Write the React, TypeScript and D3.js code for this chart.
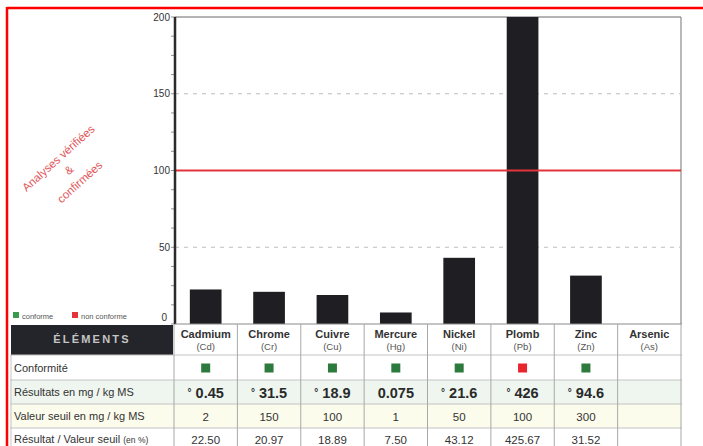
import React from "react";
import * as d3 from "d3";

// Analysed elements and their laboratory values
const elements = ["Cadmium", "Chrome", "Cuivre", "Mercure", "Nickel", "Plomb", "Zinc", "Arsenic"];
const symbols = ["Cd", "Cr", "Cu", "Hg", "Ni", "Pb", "Zn", "As"];
const results: (string | null)[] = ["0.45", "31.5", "18.9", "0.075", "21.6", "426", "94.6", null];
const verified = [true, true, true, false, true, true, true, false];
const thresholds: (string | null)[] = ["2", "150", "100", "1", "50", "100", "300", null];
const ratios: (number | null)[] = [22.5, 20.97, 18.89, 7.5, 43.12, 425.67, 31.52, null];
const yTicks = [0, 50, 100, 150, 200];
const limit = 100;

const W = 703;
const H = 446;
const plotLeft = 175;
const plotRight = 681;
const plotTop = 17;
const plotBottom = 324;
const tableLeft = 10;
const rowEdges = [324, 355, 380, 404, 428, 452];

const font = "'Liberation Sans', Arial, sans-serif";

export default function App() {
  const y = d3.scaleLinear().domain([0, 200]).range([plotBottom, plotTop]);
  const xBar = d3.scaleBand<string>().domain(elements).range([plotLeft - 1, plotRight]).paddingInner(0.5).paddingOuter(0.25);
  const xCol = d3.scaleBand<string>().domain(elements).range([plotLeft - 1, plotRight]).padding(0);
  const minorTicks = d3.range(0, 200.01, 12.5);
  const gridTicks = yTicks.filter((t) => t !== 0 && t !== 200 && t !== limit);

  const colCenter = (e: string) => (xCol(e) as number) + xCol.bandwidth() / 2;

  return (
    <div style={{ position: "absolute", left: 0, top: 0 }}>
      <svg width={W} height={H} style={{ display: "block", fontFamily: font }}>
        <rect x={0} y={0} width={W} height={H} fill="#fff" />

        {/* Frame of the plot area */}
        <line x1={plotLeft} x2={plotRight} y1={plotTop} y2={plotTop} stroke="#6a6a6a" strokeWidth={1.2} />
        <line x1={plotRight} x2={plotRight} y1={plotTop} y2={plotBottom} stroke="#8a8a8a" strokeWidth={1.2} />

        {/* Dashed gridlines */}
        {gridTicks.map((t) => (
          <line key={t} x1={plotLeft} x2={plotRight} y1={y(t)} y2={y(t)} stroke="#bdbdbd" strokeDasharray="4,5" strokeWidth={1} />
        ))}

        {/* Bars, clipped to the top of the scale */}
        {elements.map((e, i) => {
          const v = ratios[i];
          if (v == null) return null;
          const top = y(Math.min(v, 200));
          return (
            <rect key={e} x={xBar(e)} y={top} width={xBar.bandwidth()} height={plotBottom - top} fill="#1f1f23" />
          );
        })}

        {/* Threshold line */}
        <line x1={plotLeft} x2={plotRight} y1={y(limit)} y2={y(limit)} stroke="#e3343c" strokeWidth={2} />

        {/* Y axis */}
        {minorTicks.map((t) => (
          <line key={t} x1={plotLeft - 4} x2={plotLeft} y1={y(t)} y2={y(t)} stroke="#777" strokeWidth={0.8} />
        ))}
        {yTicks.map((t) => (
          <text key={t} x={plotLeft - (t === 0 ? 8 : 5)} y={y(t) + (t === 0 ? -3 : 3.5)} textAnchor="end" fontSize={10} fill="#333">
            {t}
          </text>
        ))}
        <line x1={plotLeft} x2={plotLeft} y1={plotTop} y2={plotBottom} stroke="#2b2b2b" strokeWidth={2.5} />

        {/* Verification stamp */}
        <g transform="translate(69,170) rotate(-42)" fill="#e2575b" fontSize={11.5} textAnchor="middle">
          <text x={0} y={-12}>Analyses vérifiées</text>
          <text x={0} y={4}>&amp;</text>
          <text x={0} y={20}>confirmées</text>
        </g>

        {/* Legend */}
        <rect x={13} y={312} width={6} height={6} fill="#3a9a4d" />
        <text x={22} y={318.5} fontSize={7.5} fill="#555">conforme</text>
        <rect x={72} y={312} width={6} height={6} fill="#e3343c" />
        <text x={81} y={318.5} fontSize={7.5} fill="#555">non conforme</text>

        {/* Table row backgrounds */}
        <rect x={tableLeft} y={rowEdges[2]} width={plotRight - tableLeft + 1} height={rowEdges[3] - rowEdges[2]} fill="#eef6ef" />
        <rect x={tableLeft} y={rowEdges[3]} width={plotRight - tableLeft + 1} height={rowEdges[4] - rowEdges[3]} fill="#fcfcec" />

        {/* Header cell */}
        <rect x={11} y={rowEdges[0] + 1} width={plotLeft - 13} height={rowEdges[1] - rowEdges[0] - 1} fill="#24252b" />
        <text x={(11 + plotLeft - 2) / 2} y={343} textAnchor="middle" fontSize={11} fontWeight="bold" fill="#c4c4c4" letterSpacing={2.2}>
          ÉLÉMENTS
        </text>

        {/* Table grid */}
        {rowEdges.slice(1).map((r) => (
          <line key={r} x1={tableLeft} x2={plotRight + 1} y1={r} y2={r} stroke="#c4c4c4" strokeWidth={1} />
        ))}
        <line x1={plotLeft} x2={plotRight + 1} y1={rowEdges[0]} y2={rowEdges[0]} stroke="#8a8a8a" strokeWidth={1.2} />
        <line x1={tableLeft + 1} x2={tableLeft + 1} y1={rowEdges[1]} y2={H} stroke="#c4c4c4" strokeWidth={1} />
        {elements.map((e) => (
          <line key={e} x1={xCol(e) as number} x2={xCol(e) as number} y1={rowEdges[0]} y2={H} stroke="#a8a8a8" strokeWidth={1} />
        ))}
        <line x1={plotRight} x2={plotRight} y1={rowEdges[0]} y2={H} stroke="#a8a8a8" strokeWidth={1} />

        {/* Row labels */}
        <g fontSize={11} fill="#333">
          <text x={14} y={372}>Conformité</text>
          <text x={14} y={396}>Résultats en mg / kg MS</text>
          <text x={14} y={420}>Valeur seuil en mg / kg MS</text>
          <text x={14} y={443}>
            Résultat / Valeur seuil <tspan fontSize={8.5}>(en %)</tspan>
          </text>
        </g>

        {/* Table values per element */}
        {elements.map((e, i) => {
          const cx = colCenter(e);
          const r = ratios[i];
          return (
            <g key={e} textAnchor="middle">
              <text x={cx} y={337.5} fontSize={11} fontWeight="bold" fill="#333">{e}</text>
              <text x={cx} y={349.5} fontSize={9.5} fill="#555">({symbols[i]})</text>
              {r != null && (
                <rect x={cx - 4.5} y={363.5} width={9} height={9} fill={r > limit ? "#e8252c" : "#2d7a3f"} />
              )}
              {results[i] != null && (
                <text x={cx} y={398} fontSize={14.5} fontWeight="bold" fill="#2a2a2a">
                  {verified[i] && <tspan fontSize={10} dy={-2}>°</tspan>}
                  {verified[i] && <tspan dy={2}> </tspan>}
                  {results[i]}
                </text>
              )}
              {thresholds[i] != null && (
                <text x={cx} y={421} fontSize={11.5} fill="#333">{thresholds[i]}</text>
              )}
              {r != null && (
                <text x={cx} y={444} fontSize={11.5} fill="#333">{r.toFixed(2)}</text>
              )}
            </g>
          );
        })}

        {/* Outer red border */}
        <line x1={7} x2={W} y1={8} y2={8} stroke="#ff0000" strokeWidth={2.5} />
        <line x1={7} x2={7} y1={7} y2={H} stroke="#ff0000" strokeWidth={2.5} />
      </svg>
    </div>
  );
}
